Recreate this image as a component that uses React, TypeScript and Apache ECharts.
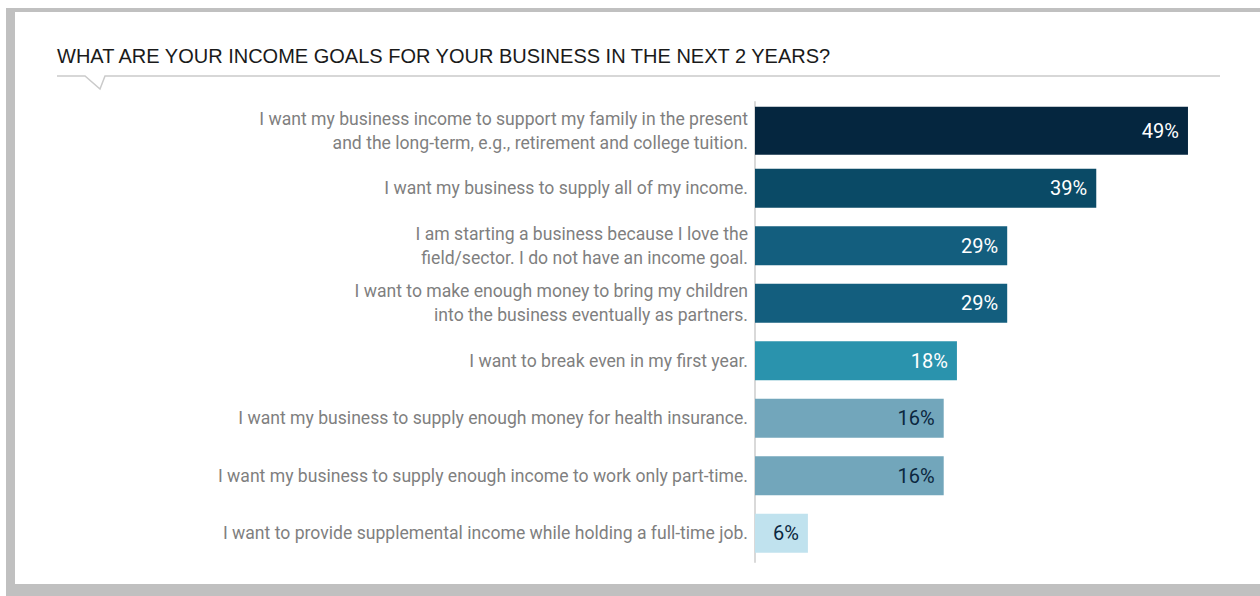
import React, { useEffect, useRef } from "react";
import * as echarts from "echarts";

const titleText = "WHAT ARE YOUR INCOME GOALS FOR YOUR BUSINESS IN THE NEXT 2 YEARS?";

const categories = [
  "I want my business income to support my family in the present\nand the long-term, e.g., retirement and college tuition.",
  "I want my business to supply all of my income.",
  "I am starting a business because I love the\nfield/sector. I do not have an income goal.",
  "I want to make enough money to bring my children\ninto the business eventually as partners.",
  "I want to break even in my first year.",
  "I want my business to supply enough money for health insurance.",
  "I want my business to supply enough income to work only part-time.",
  "I want to provide supplemental income while holding a full-time job.",
];

// Bar lengths as drawn in the picture (in % units of the axis)
const barLengths = [49.1, 38.7, 28.6, 28.6, 22.9, 21.4, 21.4, 6];
// Percentages printed on the bars
const pctLabels = ["49%", "39%", "29%", "29%", "18%", "16%", "16%", "6%"];

const barColors = ["#05263f", "#0a4a66", "#135e7e", "#135e7e", "#2a93ad", "#72a6bb", "#72a6bb", "#c0e2ee"];
const labelColors = ["#ffffff", "#ffffff", "#ffffff", "#ffffff", "#ffffff", "#0b2740", "#0b2740", "#0b2740"];

// first bar is drawn thicker than the rest
const thickIndex = [0];

export default function App() {
  const ref = useRef<HTMLDivElement>(null);

  useEffect(() => {
    if (!ref.current) return;
    const chart = echarts.init(ref.current, null, { renderer: "svg" });

    const makeItem = (i: number) => ({
      value: barLengths[i],
      itemStyle: { color: barColors[i] },
      label: { color: labelColors[i] },
    });

    const thinData = barLengths.map((_, i) => (thickIndex.includes(i) ? "-" : makeItem(i)));
    const thickData = barLengths.map((_, i) => (thickIndex.includes(i) ? makeItem(i) : "-"));

    const labelCommon = {
      show: true,
      position: "insideRight",
      distance: 9,
      fontFamily: "Roboto",
      fontSize: 20,
      formatter: (p: any) => pctLabels[p.dataIndex],
    };

    chart.setOption({
      animation: false,
      grid: { left: 755, top: 102, width: 485, height: 460, containLabel: false },
      xAxis: {
        type: "value",
        min: 0,
        max: 55,
        show: false,
      },
      yAxis: [
        {
          type: "category",
          inverse: true,
          data: categories,
          axisTick: { show: false },
          axisLine: { show: true, lineStyle: { color: "#d9d9d9", width: 2 } },
          axisLabel: {
            color: "#7f7f7f",
            fontFamily: "Roboto",
            fontSize: 17.6,
            lineHeight: 24,
            margin: 7,
          },
        },
        {
          type: "category",
          inverse: true,
          data: categories,
          show: false,
        },
      ],
      graphic: [
        {
          type: "text",
          left: 57,
          top: 46,
          style: {
            text: titleText,
            fontFamily: "Liberation Sans, Arial, sans-serif",
            fontSize: 20,
            fill: "#1a1a1a",
          },
        },
        {
          type: "polyline",
          shape: {
            points: [
              [57, 76],
              [85, 76],
              [100, 89],
              [105, 76],
              [1220, 76],
            ],
          },
          style: { stroke: "#cacaca", lineWidth: 1.5, fill: null },
        },
      ],
      series: [
        {
          type: "bar",
          yAxisIndex: 0,
          barWidth: 39,
          data: thinData,
          label: labelCommon,
        },
        {
          type: "bar",
          yAxisIndex: 1,
          barWidth: 48,
          data: thickData,
          label: labelCommon,
        },
      ],
    });

    return () => chart.dispose();
  }, []);

  return (
    <div style={{ position: "fixed", left: 0, top: 0, width: 1260, height: 596, background: "#ffffff" }}>
      <div style={{ position: "absolute", left: 6, top: 8, width: 1254, height: 588, background: "#c0c0c0" }} />
      <div style={{ position: "absolute", left: 15, top: 12, width: 1245, height: 572, background: "#ffffff" }} />
      <div ref={ref} style={{ position: "absolute", left: 0, top: 0, width: 1260, height: 596 }} />
    </div>
  );
}
